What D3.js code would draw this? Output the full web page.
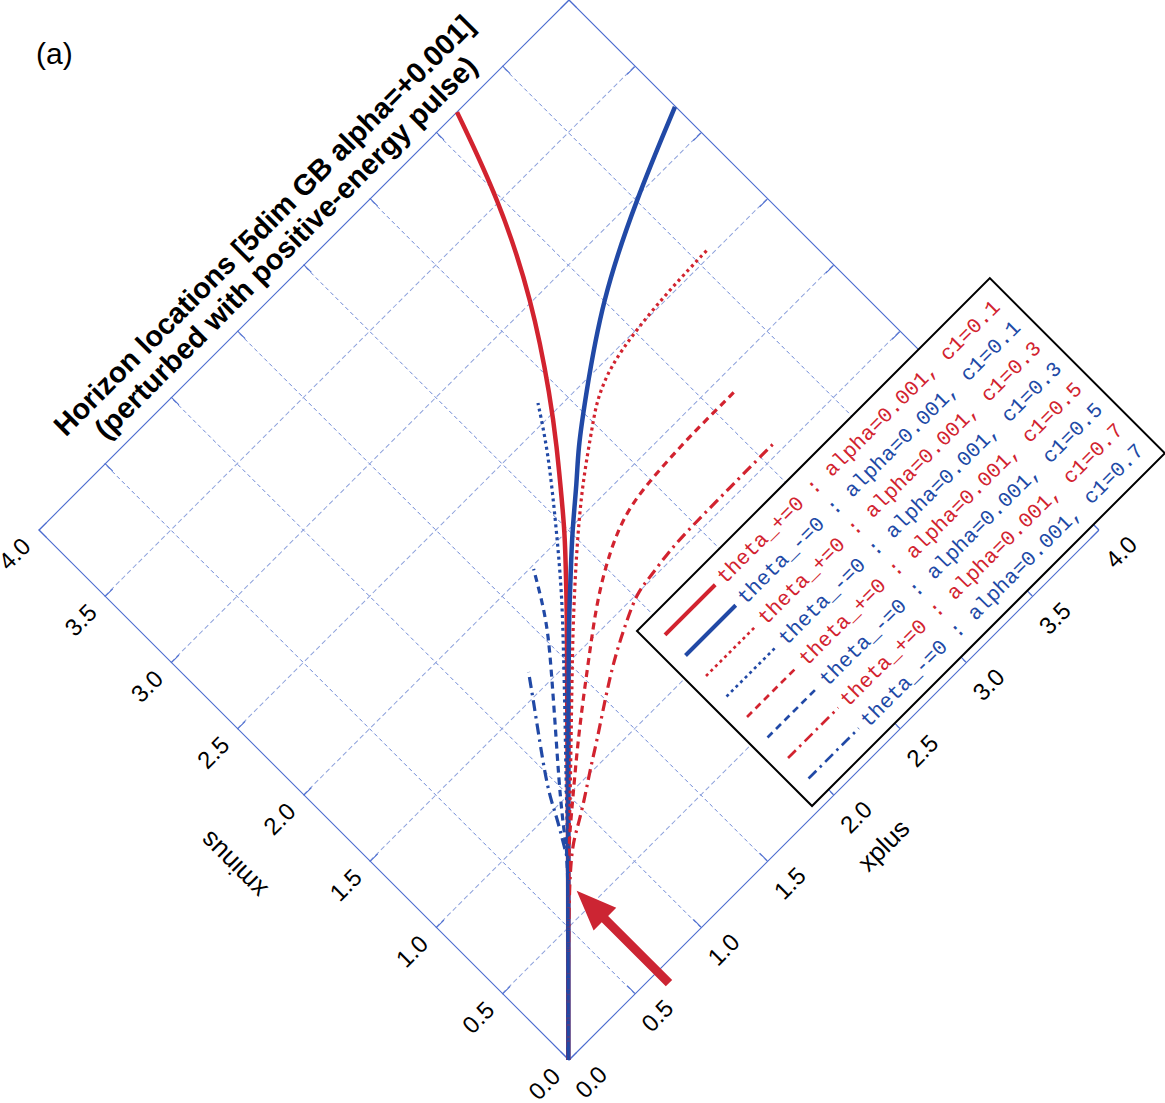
<!DOCTYPE html>
<html><head><meta charset="utf-8">
<script src="https://cdn.jsdelivr.net/npm/d3@7"></script>
<style>body{margin:0;background:#fff}svg{display:block}</style>
</head><body>
<svg id="chart" width="1165" height="1103"></svg>
<script>
// ---------- data ----------
const tickValues = [0, 0.5, 1, 1.5, 2, 2.5, 3, 3.5, 4];
const tickLabels = ["0.0","0.5","1.0","1.5","2.0","2.5","3.0","3.5","4.0"];
const axisTitles = { xplus: "xplus", xminus: "xminus" };
const titleLines = ["Horizon locations [5dim GB alpha=+0.001]", "(perturbed with positive-energy pulse)"];
const panelLabel = "(a)";

// each series: [xplus, xminus] points
const redSolid = [[0,0],[0.792,0.792],[1.429,1.439],[1.667,1.677],[1.803,1.820],[1.976,2.001],[2.157,2.220],[2.259,2.344],[2.425,2.556],[2.731,3.005],[2.984,3.507],[3.157,3.997]];
const blueSolid = [[0,0],[0.792,0.792],[1.435,1.433],[1.674,1.669],[1.820,1.803],[2.003,1.975],[2.222,2.156],[2.338,2.265],[2.554,2.428],[2.995,2.741],[3.501,2.990],[3.999,3.194]];
const redDotted = [[0,0],[0.774,0.774],[0.938,0.926],[1.191,1.171],[1.448,1.420],[1.640,1.605],[1.837,1.786],[2.037,1.963],[2.244,2.133],[2.497,2.311],[2.599,2.382],[2.772,2.458],[3.010,2.499],[3.301,2.525],[3.588,2.533]];
const blueDotted = [[0,0],[0.774,0.774],[0.864,0.872],[1.048,1.065],[1.297,1.322],[1.540,1.577],[1.723,1.771],[1.897,1.975],[2.067,2.182],[2.233,2.393],[2.365,2.594]];
const redDashed = [[0,0],[0.774,0.774],[0.874,0.861],[1.010,0.975],[1.203,1.137],[1.414,1.303],[1.629,1.465],[1.844,1.627],[2.082,1.767],[2.297,1.854],[2.520,1.880],[2.712,1.890],[2.859,1.895],[3.165,1.895]];
const blueDashed = [[0,0],[0.762,0.762],[0.818,0.842],[0.908,0.956],[1.021,1.092],[1.197,1.293],[1.372,1.495],[1.546,1.699],[1.644,1.850],[1.722,1.984]];
const redDashDot = [[0,0],[0.762,0.762],[0.901,0.835],[1.056,0.930],[1.176,1.012],[1.316,1.099],[1.452,1.190],[1.603,1.288],[1.731,1.363],[1.882,1.439],[2.022,1.503],[2.131,1.514],[2.308,1.541],[2.497,1.548],[2.784,1.550],[2.999,1.552],[3.101,1.552]];
const blueDashDot = [[0,0],[0.755,0.755],[0.772,0.790],[0.817,0.866],[0.873,0.961],[0.923,1.061],[0.995,1.171],[1.089,1.303],[1.220,1.482],[1.314,1.614]];

const seriesData = [redSolid, blueSolid, redDotted, blueDotted, redDashed, blueDashed, redDashDot, blueDashDot];
const seriesLabels = [
  "theta_+=0 : alpha=0.001, c1=0.1",
  "theta_-=0 : alpha=0.001, c1=0.1",
  "theta_+=0 : alpha=0.001, c1=0.3",
  "theta_-=0 : alpha=0.001, c1=0.3",
  "theta_+=0 : alpha=0.001, c1=0.5",
  "theta_-=0 : alpha=0.001, c1=0.5",
  "theta_+=0 : alpha=0.001, c1=0.7",
  "theta_-=0 : alpha=0.001, c1=0.7"
];
// arrow annotation (xplus constant, xminus from tail to tip)
const arrowXplus = [0.67, 0.67];
const arrowXminus = [-0.09, 0.607];

// ---------- styles ----------
const RED = "#d2232f", BLUE = "#2149a6";
const seriesColors = [RED, BLUE, RED, BLUE, RED, BLUE, RED, BLUE];
const seriesDash = [null, null, "3,3.5", "3,3.5", "7,5", "7,5", "11,5,2.5,5", "11,5,2.5,5"];
const seriesWidth = [4.5, 4.5, 3.2, 3.2, 3.2, 3.2, 3.2, 3.2];
const AXIS = "#4a6bcf";
const SANS = "'Liberation Sans', Arial, Helvetica, sans-serif";
const MONO = "'Liberation Mono', 'Courier New', monospace";

// ---------- geometry ----------
const origin = [568.3, 1060];
const L = 749.5;
const svg = d3.select("#chart");
const x = d3.scaleLinear().domain([0, 4]).range([0, L]);
const y = d3.scaleLinear().domain([0, 4]).range([0, -L]);

const g = svg.append("g").attr("transform", `translate(${origin[0]},${origin[1]}) rotate(-45)`);

// grid
const inner = tickValues.filter(t => t > 0 && t < 4);
g.selectAll(null).data(inner).join("line")
  .attr("x1", d => x(d)).attr("x2", d => x(d)).attr("y1", y(0)).attr("y2", y(4))
  .attr("stroke", "#5070cc").attr("stroke-width", 0.8).attr("stroke-dasharray", "4,3");
g.selectAll(null).data(inner).join("line")
  .attr("y1", d => y(d)).attr("y2", d => y(d)).attr("x1", x(0)).attr("x2", x(4))
  .attr("stroke", "#8ea2dc").attr("stroke-width", 1).attr("stroke-dasharray", "5,3");

// axes
function styleAxis(sel) {
  sel.select(".domain").attr("stroke", AXIS).attr("stroke-width", 1.1);
  sel.selectAll(".tick line").attr("stroke", AXIS).attr("stroke-width", 1);
  sel.selectAll(".tick text").attr("font-size", 24).attr("font-family", SANS).attr("fill", "#000");
}
const lab = (d, i) => tickLabels[i];
g.append("g").call(d3.axisBottom(x).tickValues(tickValues).tickFormat(lab).tickSizeInner(-11).tickSizeOuter(0).tickPadding(23)).call(styleAxis);
g.append("g").call(d3.axisLeft(y).tickValues(tickValues).tickFormat(lab).tickSizeInner(-11).tickSizeOuter(0).tickPadding(17)).call(styleAxis);
g.append("g").attr("transform", `translate(0,${y(4)})`).call(d3.axisTop(x).tickValues(tickValues).tickFormat("").tickSizeInner(-11).tickSizeOuter(0)).call(styleAxis);
g.append("g").attr("transform", `translate(${x(4)},0)`).call(d3.axisRight(y).tickValues(tickValues).tickFormat("").tickSizeInner(-11).tickSizeOuter(0)).call(styleAxis);

// axis titles
g.append("text").attr("x", x(2)).attr("y", 80).attr("text-anchor", "middle")
  .attr("font-size", 26).attr("font-family", SANS).text(axisTitles.xplus);
g.append("text").attr("transform", `translate(-90,${y(2)}) rotate(-90)`).attr("text-anchor", "middle")
  .attr("font-size", 26).attr("font-family", SANS).text(axisTitles.xminus);

// title
titleLines.forEach((t, i) => {
  g.append("text").attr("x", x(2)).attr("y", y(4) - 46 + i * 31).attr("text-anchor", "middle")
    .attr("font-size", 29).attr("font-weight", "bold").attr("font-family", SANS).text(t);
});

// curves
const line = d3.line().x(d => x(d[0])).y(d => y(d[1])).curve(d3.curveBasis);
seriesData.forEach((s, i) => {
  g.append("path").attr("d", line(s)).attr("fill", "none")
    .attr("stroke", seriesColors[i]).attr("stroke-width", seriesWidth[i])
    .attr("stroke-dasharray", seriesDash[i]);
});

// arrow
{
  const ax = x(arrowXplus[0]);
  const yTail = y(arrowXminus[0]), yTip = y(arrowXminus[1]);
  const hw = 4.5, hh = 16, hl = 40;
  const pts = [[ax - hw, yTail], [ax - hw, yTip + hl], [ax - hh, yTip + hl], [ax, yTip], [ax + hh, yTip + hl], [ax + hw, yTip + hl], [ax + hw, yTail]];
  g.append("path").attr("d", "M" + pts.map(p => p.join(",")).join("L") + "Z").attr("fill", "#cc2533");
}

// legend
const lg = svg.append("g").attr("transform", "translate(637,631) rotate(-45)");
lg.append("rect").attr("x", 0).attr("y", 0).attr("width", 499).attr("height", 247.5)
  .attr("fill", "#fff").attr("stroke", "#000").attr("stroke-width", 2);
seriesLabels.forEach((t, i) => {
  const yy = 22.6 + i * 29;
  lg.append("line").attr("x1", 17).attr("x2", 88).attr("y1", yy).attr("y2", yy)
    .attr("stroke", seriesColors[i]).attr("stroke-width", seriesWidth[i] - 0.5)
    .attr("stroke-dasharray", seriesDash[i]);
  lg.append("text").attr("x", 95).attr("y", yy).attr("dy", "0.32em")
    .attr("font-size", 21).attr("font-family", MONO).attr("fill", seriesColors[i])
    .attr("xml:space", "preserve").style("white-space", "pre").text(t);
});

// panel label
svg.append("text").attr("x", 36).attr("y", 64).attr("font-size", 30).attr("font-family", SANS).text(panelLabel);
</script>
</body></html>
